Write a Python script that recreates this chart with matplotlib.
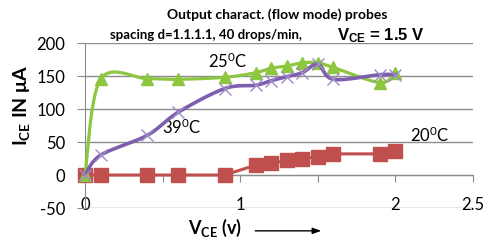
import numpy as np
import matplotlib
matplotlib.use("Agg")
import matplotlib.pyplot as plt

plt.rcParams["font.family"] = ["Lato", "DejaVu Sans"]
plt.rcParams["mathtext.default"] = "regular"
plt.rcParams["axes.unicode_minus"] = False

# data
vce = [0, 0.1, 0.4, 0.6, 0.9, 1.1, 1.2, 1.3, 1.4, 1.5, 1.6, 1.9, 2.0]
ice_25 = [0, 145, 146, 145, 148, 155, 162, 165, 170, 170, 163, 140, 155]
ice_39 = [0, 30, 60, 95, 131, 136, 143, 149, 155, 168, 145, 152, 152]
ice_20 = [0, 0, 0, 0, 0, 15, 18, 22, 25, 28, 32, 32, 37]

x_ticks = [0, 0.5, 1, 1.5, 2, 2.5]
x_ticklabels = ["0", "", "1", "", "2", "2.5"]
y_ticks = [-50, 0, 50, 100, 150, 200]

GREEN = "#8DC63F"
PURPLE = "#7E5FAE"
PURPLE_MK = "#9F8BC8"
RED = "#C0504D"
GRID = "#8C8C8C"


def smooth(x, y, n=30):
    # bezier smoothing similar to the spreadsheet "smoothed line"
    x = np.asarray(x, float)
    y = np.asarray(y, float)
    pts = np.column_stack([x, y])
    out = [pts[0]]
    for i in range(len(pts) - 1):
        p0 = pts[i - 1] if i > 0 else pts[i]
        p1, p2 = pts[i], pts[i + 1]
        p3 = pts[i + 2] if i + 2 < len(pts) else pts[i + 1]
        c1 = p1 + (p2 - p0) / 6
        c2 = p2 - (p3 - p1) / 6
        t = np.linspace(0, 1, n)[1:, None]
        seg = (1 - t) ** 3 * p1 + 3 * (1 - t) ** 2 * t * c1 + 3 * (1 - t) * t ** 2 * c2 + t ** 3 * p2
        out.extend(seg)
    out = np.array(out)
    return out[:, 0], out[:, 1]


fig = plt.figure(figsize=(5.0, 2.43), dpi=100)
ax = fig.add_axes([0.17, 0.144, 0.776, 0.679])

ax.set_xlim(0, 2.5)
ax.set_ylim(-50, 200)
ax.set_yticks(y_ticks)
ax.set_xticks(x_ticks, x_ticklabels)
ax.yaxis.grid(True, color=GRID, lw=1.0)
ax.set_axisbelow(True)

for s in ["top", "right"]:
    ax.spines[s].set_visible(False)
ax.spines["left"].set_color(GRID)
ax.spines["bottom"].set_color(GRID)
ax.spines["bottom"].set_position(("data", 0))
ax.tick_params(axis="y", colors=GRID, length=6, labelsize=12, labelcolor="black", pad=8)
ax.tick_params(axis="x", colors=GRID, length=5, labelsize=12, labelcolor="black", pad=11)

ax.plot(vce, ice_20, color=RED, lw=2.2, marker="s", ms=9.5, zorder=3, clip_on=False)

gx, gy = smooth(vce, ice_25)
ax.plot(gx, gy, color=GREEN, lw=2.3, zorder=4, clip_on=False)
ax.plot(vce, ice_25, ls="none", marker="^", ms=8, color=GREEN, zorder=4, clip_on=False)

px, py = smooth(vce, ice_39)
ax.plot(px, py, color=PURPLE, lw=2.6, zorder=5, clip_on=False)
ax.plot(vce, ice_39, ls="none", marker="x", ms=9, mew=1.0, color=PURPLE_MK, zorder=5, clip_on=False)

ax.text(0.92, 173, "25$^{0}$C", fontsize=12, ha="center", va="center")
ax.text(0.62, 72, "39$^{0}$C", fontsize=12, ha="center", va="center")
ax.text(2.22, 60, "20$^{0}$C", fontsize=12, ha="center", va="center")

fig.text(0.555, 0.94, "Output charact. (flow mode) probes", fontsize=10,
         fontweight="bold", ha="center", va="center")
fig.text(0.22, 0.855, "spacing d=1.1.1.1, 40 drops/min,", fontsize=9.5,
         fontweight="bold", ha="left", va="center")
fig.text(0.674, 0.855, "V$_{CE}$ = 1.5 V", fontsize=12, fontweight="bold",
         family="Liberation Sans", ha="left", va="center")

fig.text(0.042, 0.568, "I$_{CE}$ IN μA", fontsize=14, fontweight="bold",
         rotation=90, ha="center", va="center")
fig.text(0.43, 0.06, "V$_{CE}$ (v)", fontsize=13, fontweight="bold",
         ha="center", va="center")
fig.add_artist(matplotlib.patches.FancyArrowPatch(
    (0.505, 0.05), (0.648, 0.05), transform=fig.transFigure,
    arrowstyle="-|>,head_length=5,head_width=1.8", lw=1.0, color="black"))

fig.savefig("out.png", dpi=100)
